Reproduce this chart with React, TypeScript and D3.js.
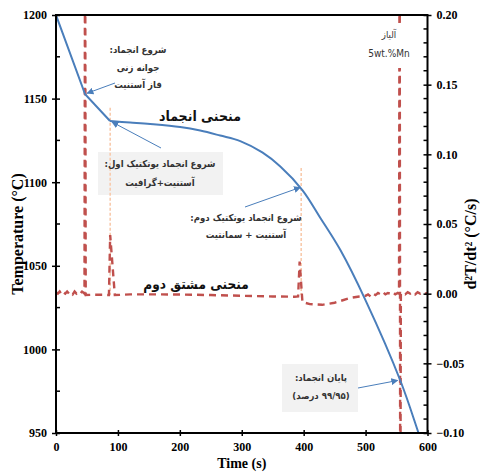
import React, { useEffect, useRef } from 'react';
import * as d3 from 'd3';

// cooling curve (time s, temperature °C)
const timeT = [0, 47, 87.3, 119.7, 152, 200.5, 232.9, 265.2, 297.6, 333.2, 362.3, 397.9, 427, 459.3, 499.8, 556.4, 585.5, 600];
const tempT = [1200, 1152.6, 1136.6, 1135.7, 1134.8, 1133.0, 1130.9, 1127.9, 1124.6, 1117.8, 1109.4, 1095.3, 1078.6, 1059.4, 1029.5, 981.1, 950, 934];

// second derivative (time s, °C/s²)
const timeD = [0, 3, 6, 9, 12, 15, 18, 21, 24, 27, 30, 33, 36, 39, 42, 45, 46, 47, 48,
  60, 75, 85.5, 87.5, 95, 120, 160, 200, 250, 300, 350, 385, 391, 393.5, 398, 410, 430, 450, 476, 490,
  500, 504, 508, 512, 516, 520, 524, 528, 532, 536, 540, 544, 548, 552, 554, 555, 556, 557,
  560, 564, 568, 572, 576, 580, 584, 588, 592, 596, 600];
const valD = [0.001, 0, 0.0015, -0.0005, 0.001, 0, 0.0015, 0, 0.001, -0.0005, 0.0015, 0, 0.001, 0, 0.0015, 0.0005, 0, 0.3, -0.001,
  -0.0008, -0.0008, -0.001, 0.042, -0.001, -0.0005, -0.0005, -0.0006, -0.001, -0.0015, -0.002, -0.0022, -0.002, 0.023, -0.006, -0.0075, -0.008, -0.0065, -0.003, -0.002,
  -0.0015, -0.0005, -0.002, 0, -0.001, 0.0005, -0.0005, 0.001, -0.0005, 0.0005, 0, 0.001, -0.0005, 0.0005, 0, 0.3, -0.2, 0,
  0.0005, -0.0005, 0.001, 0, 0.001, -0.0005, 0.001, 0, 0.001, 0, 0.0005];

const tempTicks = [950, 1000, 1050, 1100, 1150, 1200];
const derivTicks = [-0.1, -0.05, 0, 0.05, 0.1, 0.15, 0.2];
const timeTicks = [0, 100, 200, 300, 400, 500, 600];

// eutectic start markers: [time, top temperature]
const markerTimes = [87.5, 396];
const markerTops = [1144.5, 1108.5];

const BLUE = '#4a7ebb';
const RED = '#c0504d';
const FA = 'DejaVu Sans Condensed, DejaVu Sans, sans-serif';
const SERIF = 'Liberation Serif, Times New Roman, serif';

export default function App() {
  const ref = useRef<SVGSVGElement>(null);

  useEffect(() => {
    const svg = d3.select(ref.current);
    svg.selectAll('*').remove();

    const width = 483;
    const height = 472;
    const margin = { top: 15, left: 56, bottom: 39, right: 55.5 };
    const iwidth = width - margin.left - margin.right;
    const iheight = height - margin.top - margin.bottom;

    const x = d3.scaleLinear().domain([0, 600]).range([0, iwidth]);
    const y = d3.scaleLinear().domain([950, 1200]).range([iheight, 0]);
    const y2 = d3.scaleLinear().domain([-0.1, 0.2]).range([iheight, 0]);

    svg.append('defs').append('clipPath').attr('id', 'plotclip')
      .append('rect').attr('width', iwidth).attr('height', iheight);
    const m = svg.select('defs').append('marker')
      .attr('id', 'arr').attr('viewBox', '0 0 10 10').attr('refX', 9).attr('refY', 5)
      .attr('markerWidth', 7).attr('markerHeight', 7).attr('orient', 'auto-start-reverse')
      .attr('markerUnits', 'userSpaceOnUse');
    m.append('path').attr('d', 'M0,0 L10,5 L0,10 z').attr('fill', BLUE);

    const g = svg.append('g').attr('transform', `translate(${margin.left},${margin.top})`);

    // gray annotation boxes
    g.append('rect').attr('x', 42).attr('y', 137).attr('width', 125).attr('height', 43).attr('fill', '#f2f2f2');
    g.append('rect').attr('x', 226).attr('y', 349).attr('width', 76).attr('height', 48).attr('fill', '#f2f2f2');

    const plot = g.append('g').attr('clip-path', 'url(#plotclip)');

    // light orange eutectic markers
    markerTimes.forEach((t, i) => {
      plot.append('line')
        .attr('x1', x(t)).attr('x2', x(t))
        .attr('y1', y(markerTops[i])).attr('y2', y2(-0.001))
        .attr('stroke', '#f8cbad').attr('stroke-width', 1.6).attr('stroke-dasharray', '3,2');
    });

    // second derivative
    const dData = timeD.map((t, i) => [t, valD[i]] as [number, number]);
    plot.append('path')
      .datum(dData)
      .attr('d', d3.line<[number, number]>().x(d => x(d[0])).y(d => y2(d[1])))
      .attr('fill', 'none').attr('stroke', RED).attr('stroke-width', 2.4)
      .attr('stroke-dasharray', '7,5');

    // cooling curve: straight to the second kink, smooth afterwards
    const tData = timeT.map((t, i) => [t, tempT[i]] as [number, number]);
    plot.append('path')
      .datum(tData.slice(0, 3))
      .attr('d', d3.line<[number, number]>().x(d => x(d[0])).y(d => y(d[1])))
      .attr('fill', 'none').attr('stroke', BLUE).attr('stroke-width', 2);
    plot.append('path')
      .datum(tData.slice(2))
      .attr('d', d3.line<[number, number]>().x(d => x(d[0])).y(d => y(d[1])).curve(d3.curveCatmullRom.alpha(0.5)))
      .attr('fill', 'none').attr('stroke', BLUE).attr('stroke-width', 2);

    // alloy label (white bg over spike)
    g.append('rect').attr('x', 308).attr('y', 8).attr('width', 58).attr('height', 45).attr('fill', '#fff');

    const txt = (tx: number, ty: number, s: string, size = 9.5, weight = 'bold', color = '#333') =>
      g.append('text').attr('x', tx).attr('y', ty).attr('text-anchor', 'middle')
        .attr('font-family', FA).attr('font-size', size).attr('font-weight', weight)
        .attr('fill', color).attr('direction', 'rtl').text(s);

    txt(82, 38, 'شروع انجماد:');
    txt(82, 56, 'جوانه زنی');
    txt(82, 73, 'فاز آستنیت');
    txt(144, 106, 'منحنی انجماد', 14, 'bold', '#111');
    txt(104, 152, 'شروع انجماد یوتکتیک اول:');
    txt(104, 171, 'آستنیت+گرافیت');
    txt(190, 206, 'شروع انجماد یوتکتیک دوم:');
    txt(190, 223, 'آستنیت + سمانتیت');
    txt(140, 274, 'منحنی مشتق دوم', 13.5, 'bold', '#111');
    txt(333, 23, 'آلیاز', 9.5, 'normal', '#333');
    g.append('text').attr('x', 333).attr('y', 42).attr('text-anchor', 'middle')
      .attr('font-family', FA).attr('font-size', 10).attr('fill', '#333').text('5wt.%Mn');
    txt(265, 366, 'پایان انجماد:');
    txt(265, 384, '(۹۹/۹۵ درصد)');

    // arrows to curve points
    const arrow = (x1: number, y1: number, x2: number, y2v: number) =>
      g.append('line').attr('x1', x1).attr('y1', y1).attr('x2', x2).attr('y2', y2v)
        .attr('stroke', BLUE).attr('stroke-width', 1).attr('marker-end', 'url(#arr)');
    arrow(59, 68, x(timeT[1]) + 2, y(tempT[1]) - 1);
    arrow(105, 133, x(timeT[2]) + 2, y(tempT[2]) + 1);
    arrow(189, 192, x(393) + 1, y(1097.5) + 1);
    arrow(302, 373, x(555) - 2, y(982) + 1);

    // axes
    const tickFont = (sel: d3.Selection<SVGGElement, unknown, null, undefined>) => {
      sel.selectAll('text').attr('font-family', SERIF).attr('font-weight', 'bold').attr('font-size', 12).attr('fill', '#000');
      sel.selectAll('line').attr('stroke', '#000').attr('stroke-width', 1.5);
      sel.select('.domain').remove();
    };

    // minor ticks
    const minorL = d3.range(975, 1200, 50);
    g.append('g').selectAll('line').data(minorL).enter().append('line')
      .attr('x1', 0).attr('x2', 4).attr('y1', d => y(d)).attr('y2', d => y(d))
      .attr('stroke', '#000').attr('stroke-width', 1.5);
    const minorR = d3.range(-0.09, 0.2, 0.01).filter(v => Math.abs(Math.round(v * 100) % 5) !== 0);
    g.append('g').selectAll('line').data(minorR).enter().append('line')
      .attr('x1', iwidth - 4).attr('x2', iwidth).attr('y1', d => y2(d)).attr('y2', d => y2(d))
      .attr('stroke', '#000').attr('stroke-width', 1.5);

    g.append('g')
      .call(d3.axisLeft(y).tickValues(tempTicks).tickSize(4).tickPadding(5).tickFormat(d3.format('d')))
      .call(tickFont)
      .selectAll('.tick line').attr('x2', -4).attr('x1', 4);

    g.append('g').attr('transform', `translate(${iwidth},0)`)
      .call(d3.axisRight(y2).tickValues(derivTicks).tickSize(4).tickPadding(5).tickFormat(d3.format('.2f')))
      .call(tickFont)
      .selectAll('.tick line').attr('x1', -4).attr('x2', 4);

    g.append('g').attr('transform', `translate(0,${iheight})`)
      .call(d3.axisBottom(x).tickValues(timeTicks).tickSize(3).tickPadding(6).tickFormat(d3.format('d')))
      .call(tickFont)
      .selectAll('.tick line').attr('y1', -3).attr('y2', 3);

    // frame
    g.append('rect').attr('width', iwidth).attr('height', iheight)
      .attr('fill', 'none').attr('stroke', '#000').attr('stroke-width', 2);

    // axis titles
    svg.append('text').attr('transform', `translate(23,${margin.top + iheight / 2 + 10}) rotate(-90)`)
      .attr('text-anchor', 'middle').attr('font-family', SERIF).attr('font-weight', 'bold')
      .attr('font-size', 16).text('Temperature (°C)');
    svg.append('text').attr('transform', `translate(476,${margin.top + iheight / 2 + 20}) rotate(-90)`)
      .attr('text-anchor', 'middle').attr('font-family', SERIF).attr('font-weight', 'bold')
      .attr('font-size', 16).text('d²T/dt² (°C/s)');
    svg.append('text').attr('x', margin.left + iwidth / 2).attr('y', 468)
      .attr('text-anchor', 'middle').attr('font-family', SERIF).attr('font-weight', 'bold')
      .attr('font-size', 14).text('Time (s)');
  }, []);

  return (
    <svg ref={ref} width={483} height={472}
      style={{ position: 'absolute', left: 0, top: 0, background: '#fff' }} />
  );
}
